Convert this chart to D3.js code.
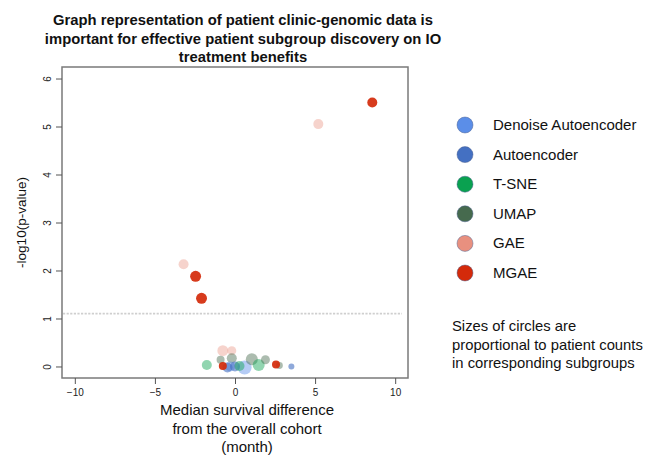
<!DOCTYPE html>
<html><head><meta charset="utf-8">
<script src="https://cdn.jsdelivr.net/npm/d3@7"></script>
<style>body{margin:0;background:#fff;font-family:"Liberation Sans",Arial,sans-serif}</style>
</head><body><svg id="c" width="648" height="455"></svg>
<script>
const titleLines = ["Graph representation of patient clinic-genomic data is","important for effective patient subgroup discovery on IO","treatment benefits"];
const xLabelLines = ["Median survival difference","from the overall cohort","(month)"];
const yLabel = "-log10(p-value)";
const methods = ["Denoise Autoencoder","Autoencoder","T-SNE","UMAP","GAE","MGAE"];
const methodColors = ["#5b8ee8","#4470c2","#0aa150","#466a4e","#e8907f","#d42a0a"];
const methodOpacity = [0.45,0.6,0.45,0.45,0.4,0.92];
const xTicks = [-10,-5,0,5,10];
const yTicks = [0,1,2,3,4,5,6];
const thresholdY = 1.1;
const noteLines = ["Sizes of circles are","proportional to patient counts","in corresponding subgroups"];
// points
const pointMethod = ["MGAE","GAE","GAE","MGAE","MGAE","T-SNE","GAE","GAE","UMAP","UMAP","Denoise Autoencoder","Autoencoder","Autoencoder","Denoise Autoencoder","T-SNE","UMAP","T-SNE","UMAP","UMAP","MGAE","MGAE","Autoencoder"];
const pointX = [8.57,5.2,-3.21,-2.46,-2.09,-1.76,-0.76,-0.2,-0.9,-0.2,-0.3,-0.47,0.0,0.6,0.28,1.05,1.48,1.9,2.77,2.56,-0.76,3.52];
const pointY = [5.50,5.05,2.13,1.88,1.42,0.03,0.33,0.33,0.14,0.17,0.0,-0.02,0.0,-0.02,0.01,0.15,0.03,0.14,0.02,0.04,0.01,0.0];
const pointCount = [25,25,25,30,30,25,30,20,16,25,25,25,25,49,25,36,36,20,12,16,16,9];

const svg = d3.select("#c");
const L=62,R=408,T=67,B=378;
const x = d3.scaleLinear().domain([-10.8,10.8]).range([L,R]);
const y = d3.scaleLinear().domain([-0.24,6.24]).range([B,T]);
const r = d3.scaleSqrt().domain([0,100]).range([0,10]);
const col = d3.scaleOrdinal().domain(methods).range(methodColors);
const op = d3.scaleOrdinal().domain(methods).range(methodOpacity);

// title
svg.append("g").selectAll("text").data(titleLines).join("text")
  .attr("x",243).attr("y",(d,i)=>25+i*18.5).attr("text-anchor","middle")
  .attr("font-weight","bold").attr("font-size",14.8).attr("fill","#111").text(d=>d);

// frame
svg.append("rect").attr("x",L).attr("y",T).attr("width",R-L).attr("height",B-T)
  .attr("fill","none").attr("stroke","#7a7a7a").attr("stroke-width",1.5);

// axes
const xa = svg.append("g").attr("transform",`translate(0,${B})`)
  .call(d3.axisBottom(x).tickValues(xTicks).tickSize(6).tickPadding(5).tickFormat(d3.format("d")));
xa.select(".domain").remove();
xa.selectAll("line").attr("stroke","#555");
xa.selectAll("text").attr("font-size",10).attr("fill","#222").attr("font-family","Liberation Sans, Arial");
const ya = svg.append("g").attr("transform",`translate(${L},0)`)
  .call(d3.axisLeft(y).tickValues(yTicks).tickSize(6).tickPadding(0).tickFormat(d3.format("d")));
ya.select(".domain").remove();
ya.selectAll("line").attr("stroke","#555");
ya.selectAll("text").attr("font-size",10).attr("fill","#222").attr("font-family","Liberation Sans, Arial")
  .attr("text-anchor","middle").attr("x",0).attr("dy",0)
  .attr("transform","translate(-15,0) rotate(-90)").attr("y",3.5);

// threshold
svg.append("line").attr("x1",L+1).attr("x2",R-6).attr("y1",y(thresholdY)).attr("y2",y(thresholdY))
  .attr("stroke","#cfcfcf").attr("stroke-width",1.8).attr("stroke-dasharray","2.2,1.4");

// points
const pts = pointX.map((v,i)=>({x:v,y:pointY[i],m:pointMethod[i],c:pointCount[i]}));
svg.append("g").selectAll("circle").data(pts).join("circle")
  .attr("cx",d=>x(d.x)).attr("cy",d=>y(d.y)).attr("r",d=>r(d.c))
  .attr("fill",d=>col(d.m)).attr("fill-opacity",d=>op(d.m));

// axis labels
svg.append("g").selectAll("text").data(xLabelLines).join("text")
  .attr("x",247).attr("y",(d,i)=>415+i*18.5).attr("text-anchor","middle")
  .attr("font-size",15).attr("fill","#111").text(d=>d);
svg.append("text").attr("transform",`translate(26,${(T+B)/2}) rotate(-90)`)
  .attr("text-anchor","middle").attr("font-size",13.5).attr("fill","#111").text(yLabel);

// legend
const lg = svg.append("g").selectAll("g").data(methods).join("g")
  .attr("transform",(d,i)=>`translate(465,${125+i*29.6})`);
lg.append("circle").attr("r",8).attr("fill",d=>col(d)).attr("stroke","#4a5f8f").attr("stroke-opacity",0.6).attr("stroke-width",0.8);
lg.append("text").attr("x",28).attr("y",5).attr("font-size",15).attr("fill","#111").text(d=>d);

// note
svg.append("g").selectAll("text").data(noteLines).join("text")
  .attr("x",452).attr("y",(d,i)=>331+i*18.5).attr("font-size",14.8).attr("fill","#111").text(d=>d);
</script></body></html>
